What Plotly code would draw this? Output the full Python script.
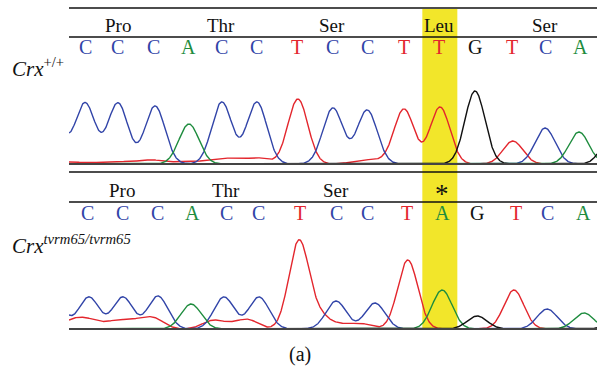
import numpy as np
import plotly.graph_objects as go

# ---------------- data (x in base-call units) ----------------
BASES = ["C", "C", "C", "A", "C", "C", "T", "C", "C", "T", "T", "G", "T", "C", "A"]
BASES_MUT = ["C", "C", "C", "A", "C", "C", "T", "C", "C", "T", "A", "G", "T", "C", "A"]
BASE_POS_WT = [0.0, 0.93, 1.95, 2.94, 3.85, 4.84, 6.0, 6.99, 7.98, 9.02, 10.01, 11.03, 12.08, 13.01, 14.0]
BASE_POS_MUT = [0.08, 1.05, 2.06, 3.05, 3.99, 4.92, 6.08, 7.1, 7.98, 9.11, 10.1, 11.09, 12.19, 13.07, 14.11]
CODONS_WT = ["Pro", "Thr", "Ser", "Leu", "Ser"]
CODONS_MUT = ["Pro", "Thr", "Ser", "*"]
CODON_MID = [1, 4, 7, 10, 13]   # index of middle base of each codon
MUT_INDEX = 10

# peaks: (position, height) per channel
WT_C = [(-0.93, 58), (0.0, 61), (0.93, 61), (1.98, 58), (3.87, 62), (4.86, 62), (7.01, 56), (7.98, 54), (13.01, 36)]
WT_A = [(2.94, 40), (13.97, 32)]
WT_G = [(11.03, 73), (14.9, 30)]
WT_T = [(6.02, 65), (9.02, 55), (10.04, 57), (12.1, 23),
        (-0.37, 2), (0.42, 1.5), (1.22, 2.5), (1.89, 4), (2.63, 2), (3.39, 3),
        (3.99, 5), (4.52, 3), (4.95, 5), (7.78, 3), (8.24, 3)]

MUT_C = [(-0.88, 30), (0.11, 32), (1.07, 32), (2.06, 33), (3.93, 32), (4.92, 32), (7.1, 28), (8.2, 26), (13.07, 20)]
MUT_A = [(3.0, 25), (10.1, 39), (14.11, 16)]
MUT_G = [(11.09, 13), (15.13, 20)]
MUT_T = [(6.05, 88), (9.13, 69), (12.13, 39), (6.65, 12), (7.27, 4), (7.83, 5),
         (-0.37, 8), (0.08, 8), (0.57, 3), (0.93, 6), (1.33, 4), (1.61, 5), (1.98, 9),
         (3.59, 8), (4.1, 4), (4.61, 9)]

# ---------------- styling ----------------
W, H = 597, 372
X0, X1 = -0.4525, 14.48
SIG = 0.283
COL = {"A": "#1e8c3e", "C": "#3144a8", "G": "#111111", "T": "#e3262d"}
SERIF = "Liberation Serif"


def py(p):
    return 1 - p / H


def trace_curve(peaks, x):
    y = np.zeros_like(x)
    for pos, h in peaks:
        y += h * np.exp(-((x - pos) ** 2) / (2 * SIG ** 2))
    return y


x = np.linspace(X0, X1, 1400)
fig = go.Figure()

panels = [
    ("y", {"A": WT_A, "C": WT_C, "G": WT_G, "T": WT_T}),
    ("y2", {"A": MUT_A, "C": MUT_C, "G": MUT_G, "T": MUT_T}),
]
for yax, chans in panels:
    for ch in ["T", "C", "A", "G"]:
        fig.add_trace(go.Scatter(x=x, y=trace_curve(chans[ch], x), mode="lines",
                                 line=dict(color=COL[ch], width=1.4), yaxis=yax,
                                 hoverinfo="skip", showlegend=False))

shapes = []
# yellow mutation band
shapes.append(dict(type="rect", xref="x", yref="paper",
                   x0=BASE_POS_WT[MUT_INDEX] - 0.47, x1=BASE_POS_WT[MUT_INDEX] + 0.52,
                   y0=py(330), y1=py(9), fillcolor="#f2e62a", line_width=0, layer="below"))
for yy in [8, 37, 172, 202]:
    shapes.append(dict(type="line", xref="paper", yref="paper", x0=69 / W, x1=1,
                       y0=py(yy), y1=py(yy), line=dict(color="#111", width=1.3)))
for yy in [164, 329]:
    shapes.append(dict(type="line", xref="paper", yref="paper", x0=69 / W, x1=1,
                       y0=py(yy), y1=py(yy), line=dict(color="#444", width=2)))

ann = []


def add(**kw):
    kw.setdefault("showarrow", False)
    kw.setdefault("yanchor", "middle")
    kw.setdefault("xanchor", "center")
    ann.append(kw)


for b, p in zip(BASES, BASE_POS_WT):
    add(x=p, y=py(47), xref="x", yref="paper", text=b,
        font=dict(family=SERIF, size=20, color=COL[b]))
for b, p in zip(BASES_MUT, BASE_POS_MUT):
    add(x=p, y=py(213), xref="x", yref="paper", text=b,
        font=dict(family=SERIF, size=20, color=COL[b]))
for c, i in zip(CODONS_WT, CODON_MID):
    add(x=BASE_POS_WT[i], y=py(26), xref="x", yref="paper", text=c,
        font=dict(family=SERIF, size=19, color="#111"))
for c, i in zip(CODONS_MUT, CODON_MID):
    star = c == "*"
    add(x=BASE_POS_MUT[i], y=py(194 if star else 190), xref="x", yref="paper", text=c,
        font=dict(family=SERIF, size=27 if star else 19, color="#111"))
add(x=10 / W, y=py(67), xref="paper", yref="paper", xanchor="left",
    text="<i>Crx</i><sup>+/+</sup>", font=dict(family=SERIF, size=21, color="#111"))
add(x=10 / W, y=py(244), xref="paper", yref="paper", xanchor="left",
    text="<i>Crx<sup>tvrm65/tvrm65</sup></i>", font=dict(family=SERIF, size=21, color="#111"))
add(x=300 / W, y=py(354), xref="paper", yref="paper",
    text="(a)", font=dict(family=SERIF, size=20, color="#111"))

fig.update_layout(
    width=W, height=H, autosize=False,
    margin=dict(l=0, r=0, t=0, b=0),
    paper_bgcolor="white", plot_bgcolor="rgba(0,0,0,0)",
    xaxis=dict(domain=[69 / W, 1], range=[X0, X1], visible=False, fixedrange=True),
    yaxis=dict(domain=[py(164), py(40)], range=[0, 124], visible=False),
    yaxis2=dict(domain=[py(329), py(205)], range=[0, 124], visible=False),
    shapes=shapes, annotations=ann,
)
fig.write_html("out.html", config={"displayModeBar": False},
               post_script="document.body.style.margin='0';document.body.style.overflow='hidden';")
